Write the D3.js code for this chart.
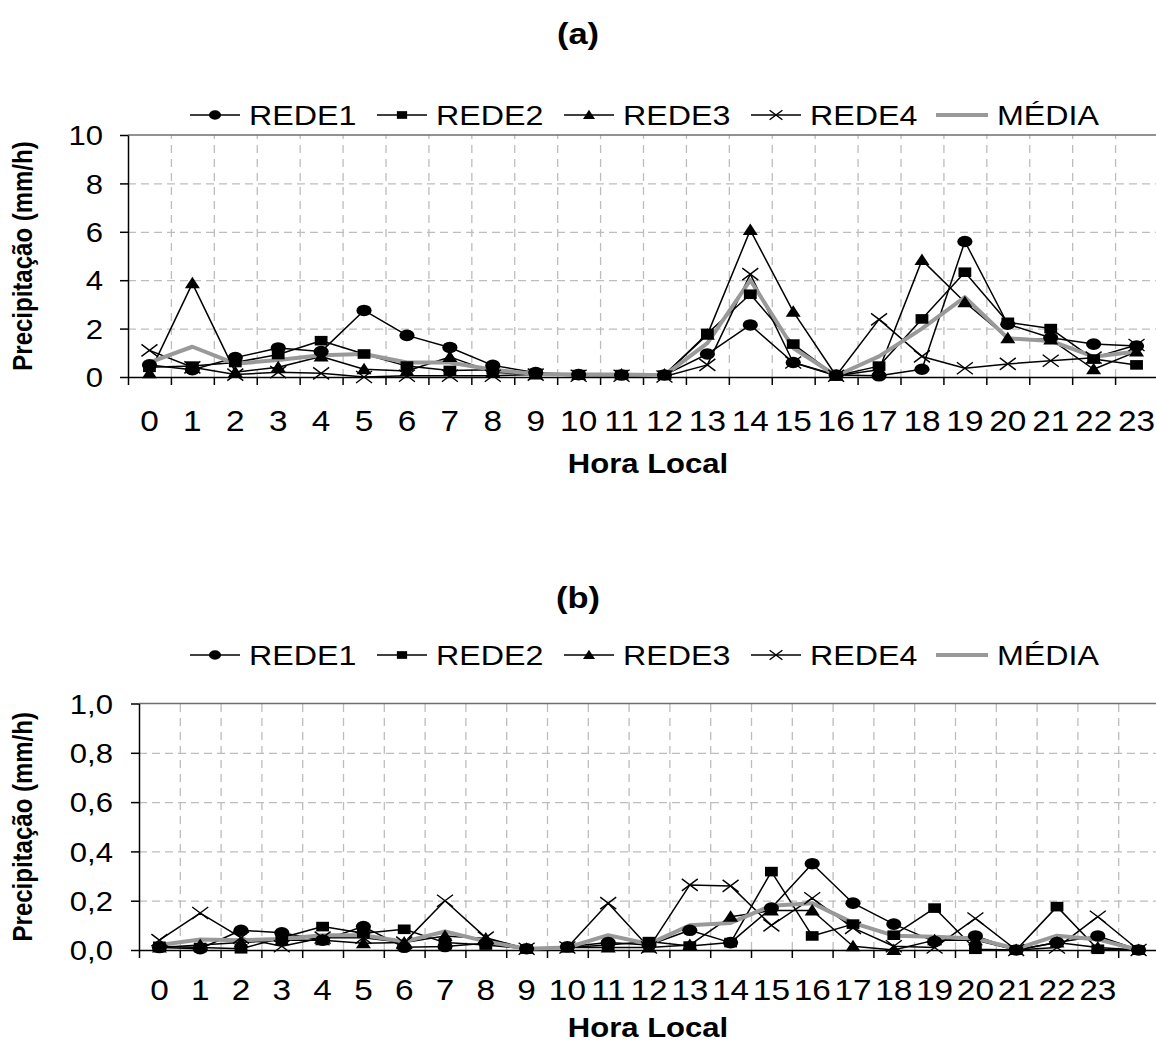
<!DOCTYPE html>
<html><head><meta charset="utf-8">
<script src="https://cdn.jsdelivr.net/npm/d3@7"></script>
<style>body{margin:0;background:#fff}text{font-family:"Liberation Sans",Arial,sans-serif;fill:#000}</style>
</head><body>
<svg id="c" width="1156" height="1042"></svg>
<script>
// ---------- data ----------
const seriesNames = ["REDE1","REDE2","REDE3","REDE4","MÉDIA"];
const hoursA = ["0","1","2","3","4","5","6","7","8","9","10","11","12","13","14","15","16","17","18","19","20","21","22","23"];
const hoursB = ["0","1","2","3","4","5","6","7","8","9","10","11","12","13","14","15","16","17","18","19","20","21","22","23",""];
const yTicksA = [0,2,4,6,8,10];
const yTicksB = [0,0.2,0.4,0.6,0.8,1.0];

const rede1A = [0.5,0.3,0.8,1.2,1.05,2.75,1.72,1.22,0.48,0.18,0.1,0.08,0.08,0.95,2.15,0.6,0.08,0.05,0.32,5.6,2.18,1.62,1.36,1.28];
const rede2A = [0.4,0.45,0.6,0.93,1.5,0.95,0.45,0.27,0.3,0.15,0.1,0.1,0.08,1.8,3.42,1.36,0.05,0.45,2.4,4.33,2.26,2.0,0.74,0.5];
const rede3A = [0.15,3.87,0.2,0.4,0.85,0.32,0.25,0.83,0.2,0.1,0.08,0.1,0.1,1.75,6.07,2.7,0.05,0.3,4.83,3.09,1.6,1.55,0.32,1.05];
const rede4A = [1.1,0.4,0.1,0.2,0.15,0.0,0.05,0.05,0.05,0.1,0.05,0.05,0.02,0.5,4.25,0.6,0.05,2.38,0.85,0.36,0.54,0.67,0.8,1.32];
const mediaA = [0.6,1.25,0.55,0.7,0.9,0.95,0.6,0.6,0.3,0.12,0.1,0.1,0.07,1.4,4.0,1.2,0.05,0.85,2.0,3.3,1.6,1.49,0.84,1.05];

const rede1B = [0.01,0.005,0.08,0.07,0.04,0.095,0.011,0.014,0.027,0.005,0.013,0.03,0.02,0.08,0.03,0.17,0.35,0.19,0.105,0.034,0.057,0.0,0.03,0.057,0.0];
const rede2B = [0.015,0.01,0.005,0.05,0.095,0.068,0.084,0.03,0.02,0.005,0.01,0.02,0.034,0.016,0.03,0.318,0.057,0.105,0.06,0.17,0.003,0.0,0.176,0.003,0.0];
const rede3B = [0.01,0.02,0.03,0.04,0.04,0.027,0.03,0.057,0.047,0.005,0.01,0.01,0.01,0.02,0.135,0.16,0.16,0.015,0.0,0.04,0.04,0.0,0.03,0.01,0.0];
const rede4B = [0.04,0.15,0.05,0.015,0.05,0.05,0.03,0.2,0.05,0.005,0.01,0.19,0.01,0.264,0.26,0.1,0.21,0.09,0.015,0.01,0.128,0.0,0.01,0.135,0.0];
const mediaB = [0.02,0.043,0.04,0.045,0.06,0.06,0.034,0.075,0.035,0.005,0.01,0.06,0.025,0.1,0.11,0.18,0.19,0.11,0.058,0.054,0.047,0.005,0.058,0.043,0.0];

// ---------- drawing ----------
const SX = 1.15; // horizontal stretch of the original rendering
const svg = d3.select("#c");
const markerKinds = ["circle","square","triangle","cross",null];

function txt(g, x, y, s, o = {}) {
  return g.append("text")
    .attr("transform", `translate(${x},${y}) scale(${SX},1)` + (o.rotate ? " rotate(-90)" : ""))
    .attr("text-anchor", o.anchor || "middle")
    .attr("font-size", o.size || 28)
    .attr("font-weight", o.weight || "normal")
    .text(s);
}

function marker(g, kind, x, y, k = 1) {
  if (kind === "circle") {
    g.append("ellipse").attr("cx", x).attr("cy", y).attr("rx", 7.6 * k).attr("ry", 5.8 * k).attr("fill", "#000");
  } else if (kind === "square") {
    g.append("rect").attr("x", x - 6.4 * k).attr("y", y - 4.8 * k).attr("width", 12.8 * k).attr("height", 9.6 * k).attr("fill", "#000");
  } else if (kind === "triangle") {
    g.append("path").attr("d", `M${x},${y - 6.5 * k}L${x + 7.5 * k},${y + 5 * k}L${x - 7.5 * k},${y + 5 * k}Z`).attr("fill", "#000");
  } else if (kind === "cross") {
    g.append("path").attr("d", `M${x - 8 * k},${y - 6 * k}L${x + 8 * k},${y + 6 * k}M${x - 8 * k},${y + 6 * k}L${x + 8 * k},${y - 6 * k}`)
      .attr("stroke", "#000").attr("stroke-width", 1.4).attr("fill", "none");
  }
}

function panel(cfg) {
  const g = svg.append("g");
  const { left, right, top, bottom, cats, series, yTicks, yMax, fmt, titleY, legendY, xLabY, xTitleY, yTitleX } = cfg;
  const x = d3.scaleBand().domain(cats.map((c, i) => i)).range([left, right]).paddingInner(0).paddingOuter(0);
  const xb = d3.scaleLinear().domain([0, cats.length]).range([left, right]);
  const y = d3.scaleLinear().domain([0, yMax]).range([bottom, top]);

  // title
  txt(g, 578, titleY, cfg.title, { size: 30, weight: "bold" });

  // legend
  seriesNames.forEach((name, i) => {
    const lx = 190 + i * 187;
    const lg = g.append("g");
    if (i < 4) {
      lg.append("line").attr("x1", lx).attr("x2", lx + 50).attr("y1", legendY).attr("y2", legendY).attr("stroke", "#000").attr("stroke-width", 1.5);
      marker(lg, markerKinds[i], lx + 25, legendY, 0.8);
    } else {
      lg.append("line").attr("x1", lx - 2).attr("x2", lx + 50).attr("y1", legendY).attr("y2", legendY).attr("stroke", "#999").attr("stroke-width", 4);
    }
    txt(lg, lx + 59, legendY + 10, name, { size: 28, anchor: "start" });
  });

  // horizontal gridlines
  g.append("g").attr("transform", `translate(${left},0)`)
    .call(d3.axisLeft(y).tickValues(yTicks.filter(v => v > 0 && v < yMax)).tickSize(-(right - left)).tickFormat(""))
    .call(a => a.select(".domain").remove())
    .call(a => a.selectAll("line").attr("stroke", "#bdbdbd").attr("stroke-width", 1.3).attr("stroke-dasharray", "8,5"));
  // vertical gridlines at category boundaries
  g.append("g").attr("transform", `translate(0,${bottom})`)
    .call(d3.axisBottom(xb).tickValues(d3.range(1, cats.length)).tickSize(-(bottom - top)).tickFormat(""))
    .call(a => a.select(".domain").remove())
    .call(a => a.selectAll("line").attr("stroke", "#bdbdbd").attr("stroke-width", 1.3).attr("stroke-dasharray", "8,6"));
  // top border
  g.append("line").attr("x1", left).attr("x2", right).attr("y1", y(yMax)).attr("y2", y(yMax)).attr("stroke", "#6e6e6e").attr("stroke-width", 1.5);

  // x axis ticks at boundaries
  g.append("g").attr("transform", `translate(0,${bottom})`)
    .call(d3.axisBottom(xb).tickValues(d3.range(0, cats.length + 1)).tickSize(8).tickFormat("").tickSizeOuter(0))
    .call(a => a.selectAll("line,path").attr("stroke", "#000").attr("stroke-width", 1.5));
  // x labels (band axis already centres its ticks)
  const xl = g.append("g").attr("transform", `translate(0,${bottom})`)
    .call(d3.axisBottom(x).tickSize(0).tickPadding(0).tickFormat(i => cats[i]));
  xl.select(".domain").remove();
  xl.selectAll("text").attr("y", 0).attr("dy", null).attr("transform", `translate(0,${xLabY - bottom}) scale(${SX},1)`)
    .attr("font-size", 29).attr("font-family", '"Liberation Sans",Arial,sans-serif').attr("fill", "#000");

  // y axis
  const ya = g.append("g").attr("transform", `translate(${left},0)`)
    .call(d3.axisLeft(y).tickValues(yTicks).tickSize(8).tickSizeOuter(0).tickFormat(fmt));
  ya.selectAll("line,path").attr("stroke", "#000").attr("stroke-width", 1.5);
  ya.selectAll("text").attr("x", 0).attr("dy", "0.36em").attr("transform", `translate(-${cfg.yLabGap},0) scale(${SX},1)`)
    .attr("font-size", 27).attr("font-family", '"Liberation Sans",Arial,sans-serif').attr("fill", "#000");

  // axis titles
  txt(g, 648, xTitleY, "Hora Local", { size: 27, weight: "bold" });
  txt(g, yTitleX, (top + bottom) / 2, "Precipitação (mm/h)", { size: 24, weight: "bold", rotate: true });

  // series
  const cx = i => x(i) + x.bandwidth() / 2;
  const line = d3.line().x((d, i) => cx(i)).y(d => y(d));
  const plot = g.append("g");
  series.forEach((vals, s) => {
    const isMean = s === 4;
    plot.append("path").datum(vals).attr("d", line).attr("fill", "none")
      .attr("stroke", isMean ? "#999" : "#000").attr("stroke-width", isMean ? 4 : 1.5).attr("stroke-linejoin", "round");
  });
  series.forEach((vals, s) => {
    if (s === 4) return;
    vals.forEach((v, i) => marker(plot, markerKinds[s], cx(i), y(v)));
  });
}

panel({
  title: "(a)", titleY: 44, legendY: 115,
  left: 128, right: 1158, top: 135, bottom: 377,
  cats: hoursA, series: [rede1A, rede2A, rede3A, rede4A, mediaA],
  yTicks: yTicksA, yMax: 10, fmt: d3.format("d"), yLabGap: 25,
  xLabY: 431, xTitleY: 473, yTitleX: 32
});
panel({
  title: "(b)", titleY: 608, legendY: 655,
  left: 139, right: 1159, top: 703.5, bottom: 950,
  cats: hoursB, series: [rede1B, rede2B, rede3B, rede4B, mediaB],
  yTicks: yTicksB, yMax: 1.0, fmt: v => d3.format(".1f")(v).replace(".", ","), yLabGap: 26,
  xLabY: 1000, xTitleY: 1037, yTitleX: 32
});
</script>
</body></html>
